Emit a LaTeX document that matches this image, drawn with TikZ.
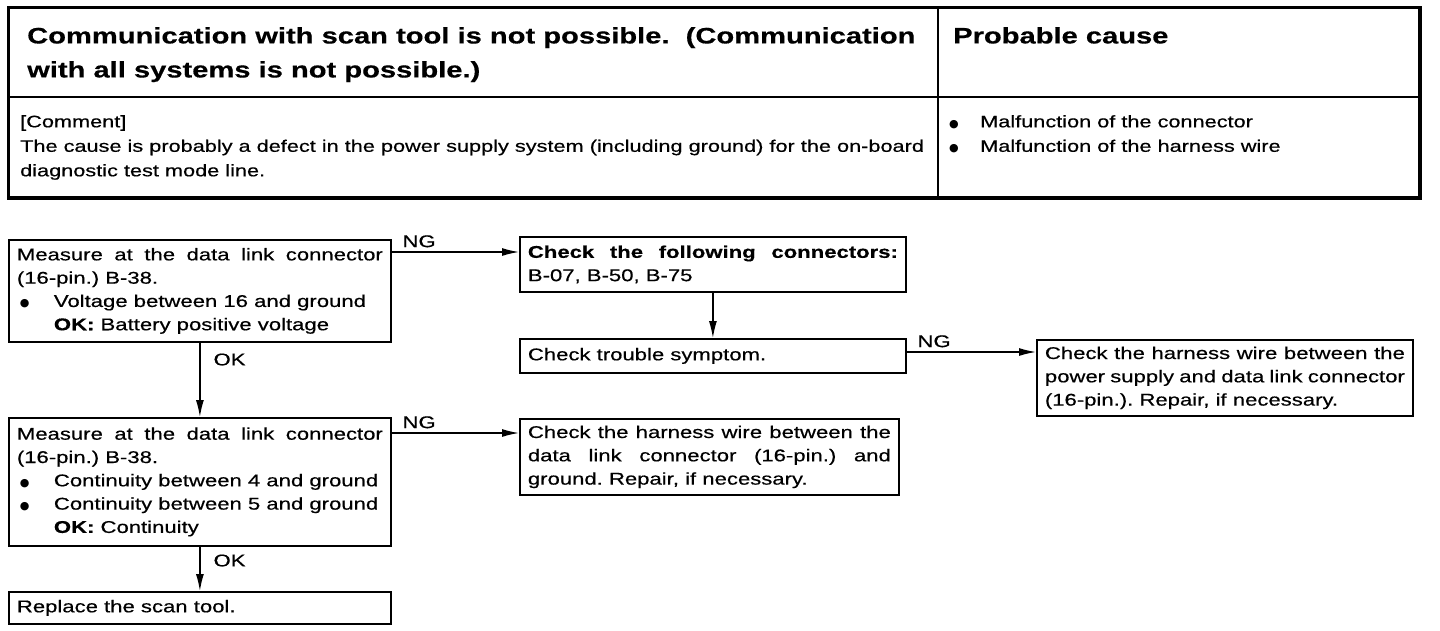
\documentclass[tikz,border=0pt]{standalone}
\usepackage{fontspec}
\setmainfont{Liberation Sans}[FakeStretch=1.3,FakeBold=0.5]
\newfontfamily\dvs{DejaVu Sans}
\usetikzlibrary{arrows.meta}
\newcommand\blt{{\dvs\fontsize{11}{11}\selectfont ●}}
\newcommand\mybul{\makebox[37pt][l]{\hspace{3pt}\blt}}
\newcommand\myind{\hspace*{37pt}}
\frenchspacing
\begin{document}
\begin{tikzpicture}[x=1pt,y=-1pt,
  font=\fontsize{17}{23.3}\selectfont,
  box/.style={draw,line width=1.8pt,anchor=north west,inner xsep=8pt,inner ysep=0pt,align=justify},
  cell/.style={draw,line width=2pt,anchor=north west,inner sep=0pt},
  txt/.style={anchor=north west,inner sep=0pt,align=left},
  arr/.style={line width=1.4pt,-{Latex[length=17pt,width=8pt]}},
  lab/.style={inner sep=0pt}]
\useasboundingbox (0,0) rectangle (1440,630);
% table
\node[cell,minimum width=929pt,minimum height=89pt] (T1) at (8,7) {};
\node[cell,minimum width=481pt,minimum height=89pt] (T2) at (937,7) {};
\node[cell,minimum width=929pt,minimum height=100pt] (T3) at (8,96) {};
\node[cell,minimum width=481pt,minimum height=100pt] (T4) at (937,96) {};
\draw[line width=3pt] (T1.north west) rectangle (T4.south east);
\node[txt,font=\fontsize{22.4}{34}\selectfont\bfseries] (title) at (27,27)
  {Communication with scan tool is not possible.\ \ (Communication\\with all systems is not possible.)};
\node[txt,font=\fontsize{22.4}{34}\selectfont\bfseries] (pc) at (953,27) {Probable cause};
\node[txt,font=\fontsize{16.7}{24.5}\selectfont] (comment) at (20,115)
  {[Comment]\\The cause is probably a defect in the power supply system (including ground) for the on-board\\diagnostic test mode line.};
\node[txt,font=\fontsize{16.7}{24.5}\selectfont] (causes) at (949,115)
  {\makebox[31pt][l]{\blt}Malfunction of the connector\\\makebox[31pt][l]{\blt}Malfunction of the harness wire};
% flow boxes
\node[box,text width=366pt,minimum height=102pt] (A) at (8,239)
  {Measure at the data link connector\linebreak (16-pin.) B-38.\par
   \mbox{\mybul Voltage between 16 and ground}\par
   \mbox{\myind\textbf{OK:} Battery positive voltage}};
\node[box,text width=370pt,minimum height=55pt] (B) at (519,236)
  {\textbf{Check the following connectors:}\linebreak B-07, B-50, B-75};
\node[box,text width=370pt,minimum height=34pt] (C) at (519,338)
  {Check trouble symptom.};
\node[box,text width=360pt,minimum height=76pt] (D) at (1036,339)
  {Check the harness wire between the\linebreak power supply and data link connector\linebreak (16-pin.). Repair, if necessary.};
\node[box,text width=366pt,minimum height=128pt] (E) at (8,417)
  {Measure at the data link connector\linebreak (16-pin.) B-38.\par
   \mbox{\mybul Continuity between 4 and ground}\par
   \mbox{\mybul Continuity between 5 and ground}\par
   \mbox{\myind\textbf{OK:} Continuity}};
\node[box,text width=363pt,minimum height=76pt] (F) at (519,418)
  {Check the harness wire between the\linebreak data link connector (16-pin.) and\linebreak ground. Repair, if necessary.};
\node[box,text width=366pt,minimum height=32pt] (G) at (8,591)
  {Replace the scan tool.};
% connectors
\draw[arr] ([yshift=-13pt]A.north east) -- node[lab,pos=0,anchor=south west,xshift=10pt,yshift=4pt]{NG} ([yshift=-13pt]A.north east -| B.west);
\draw[arr] (A.south) -- node[lab,pos=0,anchor=north west,xshift=13pt,yshift=-10pt]{OK} (E.north);
\draw[arr] (B.south) -- (C.north);
\draw[arr] ([yshift=-13pt]D.north west -| C.east) -- node[lab,pos=0,anchor=south west,xshift=10pt,yshift=4pt]{NG} ([yshift=-13pt]D.north west);
\draw[arr] ([yshift=-16pt]E.north east) -- node[lab,pos=0,anchor=south west,xshift=10pt,yshift=4pt]{NG} ([yshift=-16pt]E.north east -| F.west);
\draw[arr] (E.south) -- node[lab,pos=0,anchor=north west,xshift=13pt,yshift=-7pt]{OK} (G.north);
\end{tikzpicture}
\end{document}
